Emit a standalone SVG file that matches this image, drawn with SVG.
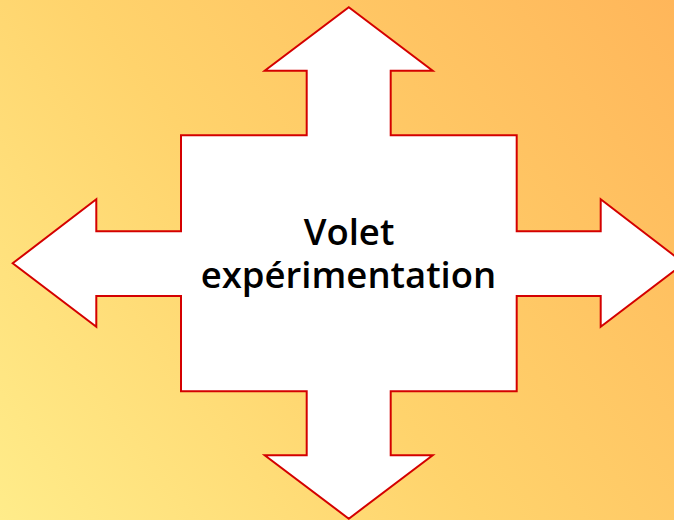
<svg xmlns="http://www.w3.org/2000/svg" width="674" height="520" viewBox="0 0 674 520">
  <defs>
    <linearGradient id="bg" gradientUnits="userSpaceOnUse" x1="0" y1="520" x2="674" y2="0">
      <stop offset="0" stop-color="#FFEC8A"/>
      <stop offset="0.45" stop-color="#FFD36C"/>
      <stop offset="1" stop-color="#FFB65A"/>
    </linearGradient>
  </defs>
  <style>
    .shape { fill: #FFFFFF; stroke: #D40000; stroke-width: 2; stroke-linejoin: miter; }
    .label { font-family: "Open Sans", "Noto Sans", "DejaVu Sans", sans-serif; font-size: 36.5px; font-weight: 600; fill: #000000; text-anchor: middle; }
  </style>
  <rect x="0" y="0" width="674" height="520" fill="url(#bg)"/>
  <g id="node-volet">
    <polygon class="shape" points="348.8,7.3 432.7,70.7 390.7,70.7 390.7,135.3 516.7,135.3 516.7,231.3 600.7,231.3 600.7,199.3 684.3,263.3 600.7,326.7 600.7,296 516.7,296 516.7,391.3 390.7,391.3 390.7,455.3 432.7,455.3 348.8,518.7 264.7,455.3 306.7,455.3 306.7,391.3 181,391.3 181,296 96.3,296 96.3,326.7 12.7,263.3 96.3,199.3 96.3,231.3 181,231.3 181,135.3 306.7,135.3 306.7,70.7 264.7,70.7"/>
    <text class="label"><tspan x="349" y="244.5">Volet</tspan><tspan x="348.5" y="288">expérimentation</tspan></text>
  </g>
  <g id="connectors"></g>
</svg>
